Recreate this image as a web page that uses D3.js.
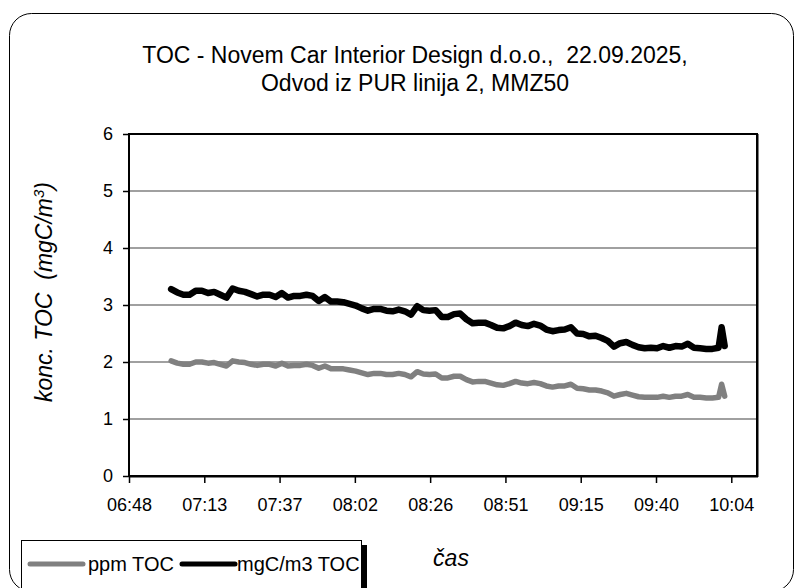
<!DOCTYPE html>
<html>
<head>
<meta charset="utf-8">
<script src="https://cdn.jsdelivr.net/npm/d3@7"></script>
<style>
  body { margin: 0; background: #fff; }
  svg { display: block; font-family: "Liberation Sans", Arial, sans-serif; }
  .axis path { display: none; }
  .axis line { stroke: #000; stroke-width: 1.5; }
  .axis text { font-size: 18px; fill: #000; }
</style>
</head>
<body>
<div id="chart"></div>
<script>
// Sample times (hh:mm) of the measurement
const times = [
  '07:02','07:04','07:06','07:08','07:10','07:12','07:14','07:16','07:18','07:20',
  '07:22','07:24','07:26','07:28','07:30','07:32','07:34','07:36','07:38','07:40',
  '07:42','07:44','07:46','07:48','07:50','07:52','07:54','07:56','07:58',
  '08:00','08:02','08:04','08:06','08:08','08:10','08:12','08:14','08:16','08:18',
  '08:20','08:22','08:24','08:26','08:28','08:30','08:32','08:34','08:36','08:38',
  '08:40','08:42','08:44','08:46','08:48','08:50','08:52','08:54','08:56','08:58',
  '09:00','09:02','09:04','09:06','09:08','09:10','09:12','09:14','09:16','09:18',
  '09:20','09:22','09:24','09:26','09:28','09:30','09:32','09:34','09:36','09:38',
  '09:40','09:42','09:44','09:46','09:48','09:50','09:52','09:54','09:56','09:58',
  '10:00','10:01','10:02'
];

// mgC/m3 TOC (black)
const mgcValues = [
  3.28,3.22,3.18,3.18,3.25,3.25,3.21,3.23,3.18,3.13,
  3.29,3.25,3.23,3.19,3.15,3.18,3.18,3.14,3.21,3.13,
  3.16,3.16,3.18,3.16,3.07,3.14,3.06,3.06,3.05,
  3.02,2.99,2.94,2.90,2.93,2.93,2.90,2.89,2.92,2.89,
  2.83,2.98,2.91,2.90,2.91,2.79,2.79,2.84,2.85,2.75,
  2.68,2.69,2.69,2.65,2.60,2.59,2.63,2.69,2.65,2.63,
  2.67,2.64,2.57,2.54,2.56,2.57,2.61,2.50,2.49,2.45,
  2.46,2.42,2.37,2.27,2.33,2.35,2.30,2.26,2.24,2.25,
  2.24,2.28,2.25,2.28,2.27,2.32,2.25,2.24,2.23,2.23,
  2.25,2.61,2.28
];

// ppm TOC (grey)
const ppmValues = [
  2.02,1.98,1.96,1.96,2.00,2.00,1.98,1.99,1.96,1.93,
  2.02,2.00,1.99,1.96,1.94,1.96,1.96,1.93,1.98,1.93,
  1.94,1.94,1.96,1.94,1.89,1.93,1.88,1.88,1.88,
  1.86,1.84,1.81,1.78,1.80,1.80,1.78,1.78,1.80,1.78,
  1.74,1.83,1.79,1.78,1.79,1.72,1.72,1.75,1.75,1.69,
  1.65,1.66,1.66,1.63,1.60,1.59,1.62,1.66,1.63,1.62,
  1.64,1.62,1.58,1.56,1.58,1.58,1.61,1.54,1.53,1.51,
  1.51,1.49,1.46,1.40,1.43,1.45,1.42,1.39,1.38,1.38,
  1.38,1.40,1.38,1.40,1.40,1.43,1.38,1.38,1.37,1.37,
  1.38,1.61,1.40
];

const xTickLabels = ['06:48','07:13','07:37','08:02','08:26','08:51','09:15','09:40','10:04'];
const yTickValues = [0, 1, 2, 3, 4, 5, 6];

const titleLines = ['TOC - Novem Car Interior Design d.o.o.,  22.09.2025,', 'Odvod iz PUR linija 2, MMZ50'];
const legendItems = [
  { label: 'ppm TOC', color: '#808080', lineX: 30, textX: 88 },
  { label: 'mgC/m3 TOC', color: '#000000', lineX: 182, textX: 237 }
];

// axis range in minutes since midnight (Excel-like 0.017 day steps)
const xStart = 408.3, xStep = 24.48, xEnd = 612.5;

const width = 795, height = 588;
const plot = { left: 129, right: 757, top: 134, bottom: 476 };

const toMin = s => { const [h, m] = s.split(':').map(Number); return h * 60 + m; };

const svg = d3.select('#chart').append('svg')
  .attr('width', width).attr('height', height);

// outer chart frame
svg.append('rect')
  .attr('x', 9.5).attr('y', 13.5)
  .attr('width', 784).attr('height', 578)
  .attr('rx', 22).attr('ry', 22)
  .attr('fill', '#fff').attr('stroke', '#000').attr('stroke-width', 1);

const x = d3.scaleLinear().domain([xStart, xEnd]).range([plot.left, plot.right]);
const y = d3.scaleLinear().domain([0, 6]).range([plot.bottom, plot.top]);

// gridlines
svg.append('g')
  .selectAll('line')
  .data(yTickValues.filter(v => v > 0 && v < 6))
  .join('line')
  .attr('x1', plot.left).attr('x2', plot.right)
  .attr('y1', d => y(d)).attr('y2', d => y(d))
  .attr('stroke', '#808080').attr('stroke-width', 1.5);

// series
const ppmData = times.map((t, i) => ({ t: toMin(t), v: ppmValues[i] }));
const mgcData = times.map((t, i) => ({ t: toMin(t), v: mgcValues[i] }));

const line = d3.line().x(d => x(d.t)).y(d => y(d.v));

svg.append('path')
  .datum(ppmData)
  .attr('d', line)
  .attr('fill', 'none').attr('stroke', '#808080')
  .attr('stroke-width', 5.5).attr('stroke-linejoin', 'round').attr('stroke-linecap', 'round');

svg.append('path')
  .datum(mgcData)
  .attr('d', line)
  .attr('fill', 'none').attr('stroke', '#000')
  .attr('stroke-width', 6.5).attr('stroke-linejoin', 'round').attr('stroke-linecap', 'round');

// plot border
svg.append('rect')
  .attr('x', plot.left).attr('y', plot.top)
  .attr('width', plot.right - plot.left).attr('height', plot.bottom - plot.top)
  .attr('fill', 'none').attr('stroke', '#000').attr('stroke-width', 2);
svg.append('line')
  .attr('x1', plot.right + 0.5).attr('x2', plot.right + 0.5)
  .attr('y1', plot.top).attr('y2', plot.bottom + 1)
  .attr('stroke', '#000').attr('stroke-width', 2);
svg.append('line')
  .attr('x1', plot.left).attr('x2', plot.right + 1)
  .attr('y1', plot.bottom + 0.5).attr('y2', plot.bottom + 0.5)
  .attr('stroke', '#000').attr('stroke-width', 2);

// axes
svg.append('g')
  .attr('class', 'axis')
  .attr('transform', `translate(${plot.left},0)`)
  .call(d3.axisLeft(y).tickValues(yTickValues).tickSize(6).tickPadding(10).tickFormat(d3.format('d')));

svg.append('g')
  .attr('class', 'axis')
  .attr('transform', `translate(0,${plot.bottom})`)
  .call(d3.axisBottom(x)
    .tickValues(xTickLabels.map((_, i) => xStart + i * xStep))
    .tickSize(7).tickPadding(15)
    .tickFormat((d, i) => xTickLabels[i]));

// title
svg.append('text')
  .attr('x', 415).attr('y', 63)
  .attr('text-anchor', 'middle')
  .style('font-size', '23px')
  .style('white-space', 'pre')
  .selectAll('tspan')
  .data(titleLines)
  .join('tspan')
  .attr('x', 415)
  .attr('dy', (d, i) => i === 0 ? 0 : 28)
  .text(d => d);

// y-axis title
const yTitle = svg.append('text')
  .attr('transform', 'translate(52,292) rotate(-90)')
  .attr('text-anchor', 'middle')
  .style('font-size', '23px')
  .style('font-style', 'italic')
  .style('white-space', 'pre');
yTitle.append('tspan').text('konc. TOC  (mgC/m');
yTitle.append('tspan').attr('dy', -8).style('font-size', '15px').text('3');
yTitle.append('tspan').attr('dy', 8).text(')');

// x-axis title
svg.append('text')
  .attr('x', 451).attr('y', 566)
  .attr('text-anchor', 'middle')
  .style('font-size', '23px')
  .style('font-style', 'italic')
  .text('čas');

// legend
const legend = svg.append('g');
legend.append('rect')
  .attr('x', 25).attr('y', 545).attr('width', 342).attr('height', 60)
  .attr('fill', '#000');
legend.append('rect')
  .attr('x', 21.5).attr('y', 540.5).attr('width', 340).attr('height', 60)
  .attr('fill', '#fff').attr('stroke', '#000').attr('stroke-width', 1);

legendItems.forEach(item => {
  legend.append('line')
    .attr('x1', item.lineX).attr('x2', item.lineX + 53)
    .attr('y1', 564).attr('y2', 564)
    .attr('stroke', item.color).attr('stroke-width', 5).attr('stroke-linecap', 'round');
  legend.append('text')
    .attr('x', item.textX).attr('y', 571)
    .style('font-size', '20px')
    .text(item.label);
});
</script>
</body>
</html>
